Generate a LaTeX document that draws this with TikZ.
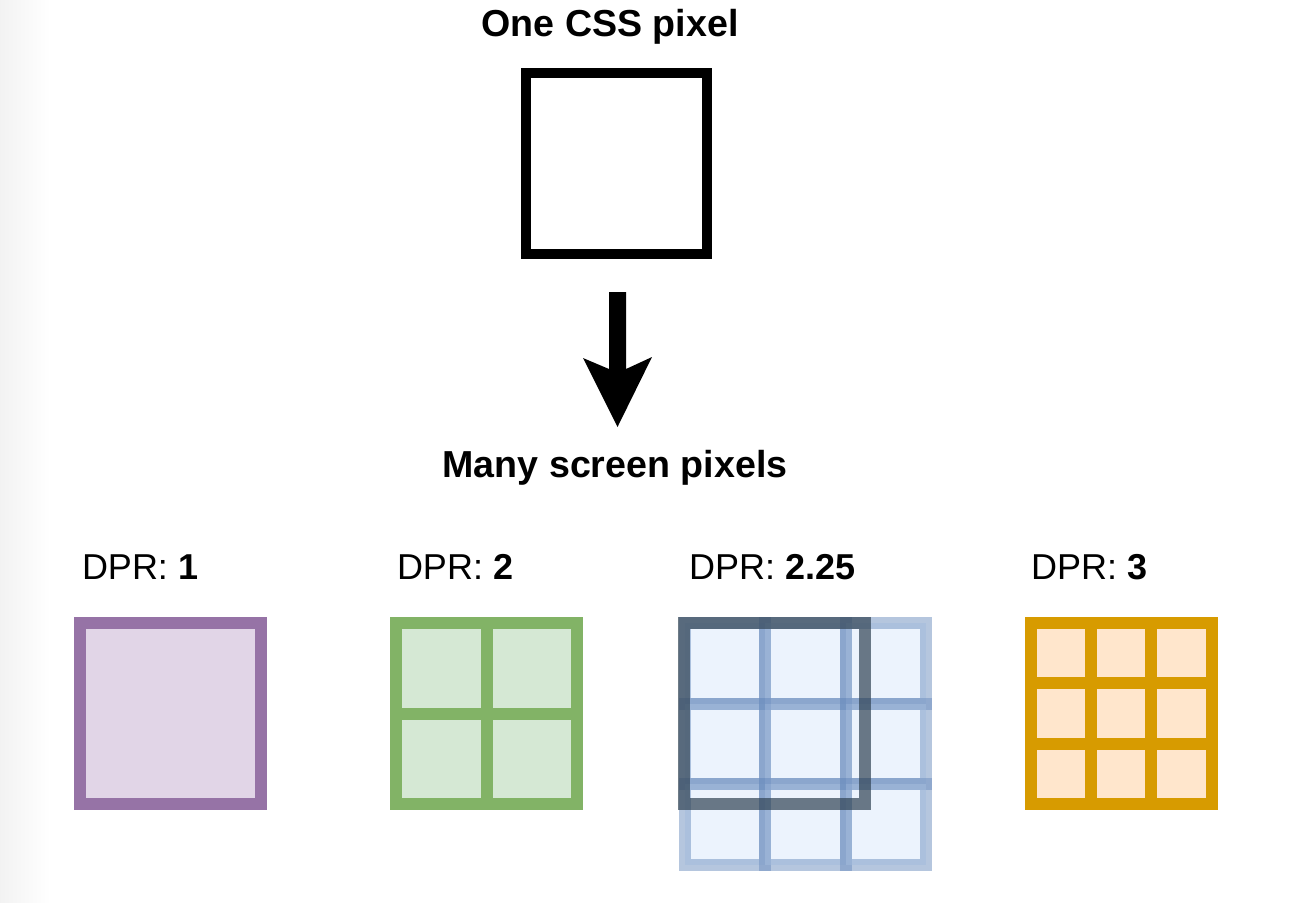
\documentclass[tikz,border=0pt]{standalone}
\usepackage{fontspec}
\setmainfont{Liberation Sans}
\definecolor{purpleS}{HTML}{9673A6}
\definecolor{purpleF}{HTML}{E1D5E7}
\definecolor{greenS}{HTML}{82B366}
\definecolor{greenF}{HTML}{D5E8D4}
\definecolor{orangeS}{HTML}{D79B00}
\definecolor{orangeF}{HTML}{FFE6CC}
\definecolor{blueS}{HTML}{6C8EBF}
\definecolor{blueF}{HTML}{DAE8FC}
\definecolor{darkS}{HTML}{314354}
\tikzset{
  lbl/.style={inner sep=0pt, outer sep=0pt, font=\fontsize{18}{21.6}\selectfont},
  title/.style={lbl, anchor=base, font=\fontsize{18.8}{22.5}\selectfont\bfseries},
  dpr/.style={lbl, anchor=base west},
  sq/.style={rectangle, inner sep=0pt, outer sep=0pt, line width=6pt},
  csspx/.style={rectangle, inner sep=0pt, outer sep=0pt, line width=5pt, draw=black, minimum size=90.5pt},
  purplebox/.style={sq, draw=purpleS, fill=purpleF, minimum size=90.5pt},
  greencell/.style={sq, draw=greenS, fill=greenF, minimum size=45.25pt},
  orangecell/.style={sq, draw=orangeS, fill=orangeF, minimum size=30.17pt},
  bluecell/.style={sq, draw=blueS, fill=blueF, draw opacity=0.5, fill opacity=0.5, minimum size=40.25pt},
  darkbox/.style={sq, draw=darkS, draw opacity=0.7, minimum size=90.5pt},
}
\begin{document}
\begin{tikzpicture}[x=0.5pt, y=-0.5pt]
\useasboundingbox (0,0) rectangle (1316,902);
\fill[white] (0,0) rectangle (1316,902);
\shade[left color=black!5, right color=white] (0,0) rectangle (50,902);

% top
\node[title] (t1) at (610,36) {One CSS pixel};
\node[csspx] (css) at (616.5,163.5) {};

% arrow
\coordinate (arrowtop) at (617.5,292);
\coordinate (arrowtip) at (617.5,427);
\fill (arrowtop) ++(-8.5,0) -- ++(17,0) -- ++(0,77) -- ++(26,-12) -- (arrowtip) -- ++(-34.5,-69) -- ++(26,11) -- cycle;

\node[title] (t2) at (615,477) {Many screen pixels};

% labels
\node[dpr] (l1) at (82,579) {DPR: \textbf{1}};
\node[dpr] (l2) at (397,579) {DPR: \textbf{2}};
\node[dpr] (l3) at (689,579) {DPR: \textbf{2.25}};
\node[dpr] (l4) at (1031,579) {DPR: \textbf{3}};

% DPR 1
\node[purplebox] (p1) at (170.75,713) {};

% DPR 2
\foreach \i in {0,1} \foreach \j in {0,1}
  \node[greencell] (g\i\j) at ({396+45.25+90.5*\i},{623+45.25+90.5*\j}) {};

% DPR 2.25
\foreach \i in {0,1,2} \foreach \j in {0,1,2}
  \node[bluecell] (b\i\j) at ({684.5+40.25+80.5*\i},{623+40.25+80.5*\j}) {};
\node[darkbox] (d1) at (774.5,713) {};

% DPR 3
\foreach \i in {0,1,2} \foreach \j in {0,1,2}
  \node[orangecell] (o\i\j) at ({1030.5+30.17+60.33*\i},{623+30.17+60.33*\j}) {};
\end{tikzpicture}
\end{document}
